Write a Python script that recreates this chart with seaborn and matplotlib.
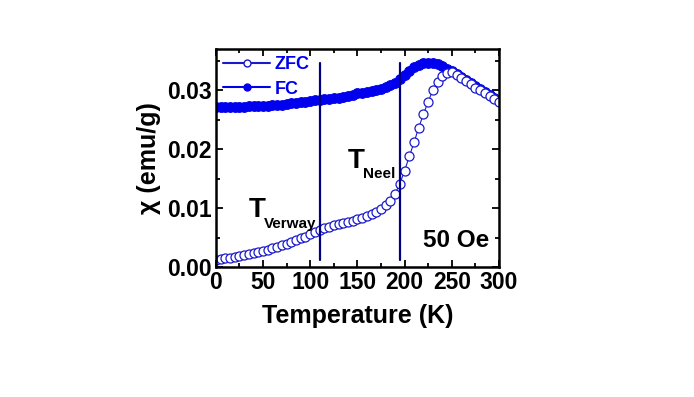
import numpy as np
import pandas as pd
import matplotlib
matplotlib.use("Agg")
import matplotlib.pyplot as plt
import seaborn as sns
from matplotlib.lines import Line2D
from matplotlib.ticker import MultipleLocator

# donnees (pas de 5 K)
temp = list(range(0, 301, 5))
zfc = [0.0013, 0.0014, 0.0015, 0.0016, 0.0018, 0.0019, 0.0021, 0.0022, 0.0024, 0.0026,
       0.0028, 0.0030, 0.0032, 0.0035, 0.0037, 0.0040, 0.0043, 0.0046, 0.0049, 0.0052,
       0.0056, 0.0060, 0.0063, 0.0066, 0.0068, 0.0071, 0.0073, 0.0075, 0.0077, 0.0079,
       0.0081, 0.0084, 0.0087, 0.0090, 0.0094, 0.0099, 0.0105, 0.0113, 0.0125, 0.0142,
       0.0164, 0.0188, 0.0212, 0.0237, 0.0260, 0.0281, 0.0301, 0.0315, 0.0325, 0.0330,
       0.0331, 0.0326, 0.0321, 0.0316, 0.0311, 0.0305, 0.0300, 0.0295, 0.0290, 0.0285,
       0.0281]
fc = [0.0272, 0.0272, 0.0272, 0.0272, 0.0272, 0.0272, 0.0272, 0.0273, 0.0273, 0.0273,
      0.0274, 0.0274, 0.0275, 0.0276, 0.0276, 0.0277, 0.0278, 0.0279, 0.0280, 0.0281,
      0.0282, 0.0283, 0.0284, 0.0285, 0.0286, 0.0287, 0.0288, 0.0289, 0.0291, 0.0293,
      0.0295, 0.0296, 0.0297, 0.0299, 0.0301, 0.0303, 0.0306, 0.0309, 0.0313, 0.0319,
      0.0326, 0.0333, 0.0339, 0.0343, 0.0346, 0.0347, 0.0347, 0.0345, 0.0341, 0.0337,
      0.0333, 0.0328, 0.0323, 0.0318, 0.0313, 0.0307, 0.0302, 0.0297, 0.0292, 0.0287,
      0.0283]
t_verway = 110
t_neel = 195

df = pd.DataFrame({"T": temp, "ZFC": zfc, "FC": fc})

sns.set_style("ticks")
plt.rcParams['font.family'] = ['Liberation Sans', 'DejaVu Sans']
plt.rcParams['font.weight'] = 'bold'
plt.rcParams['text.color'] = 'black'
plt.rcParams['axes.labelcolor'] = 'black'
plt.rcParams['xtick.color'] = 'black'
plt.rcParams['ytick.color'] = 'black'
plt.rcParams['axes.edgecolor'] = 'black'

fig = plt.figure(figsize=(6.94, 3.97), dpi=100)
ax = fig.add_axes([0.311, 0.327, 0.408, 0.549])

blue = '#0000ee'
zblue = '#1a1acc'
sns.lineplot(data=df, x="T", y="FC", ax=ax, color=blue, marker='o', markersize=7,
             markerfacecolor=blue, markeredgecolor=blue, lw=4)
sns.lineplot(data=df, x="T", y="ZFC", ax=ax, color=zblue, marker='o', markersize=6.5,
             markerfacecolor='white', markeredgecolor=zblue, markeredgewidth=0.9, lw=0.8)

for tv in (t_verway, t_neel):
    ax.plot([tv, tv], [0.0013, 0.0346], color='#000080', lw=1.6)

ax.set_xlim(0, 300)
ax.set_ylim(0, 0.037)
ax.xaxis.set_major_locator(MultipleLocator(50))
ax.xaxis.set_minor_locator(MultipleLocator(25))
ax.yaxis.set_major_locator(MultipleLocator(0.01))
ax.yaxis.set_minor_locator(MultipleLocator(0.005))
ax.yaxis.set_major_formatter(matplotlib.ticker.FormatStrFormatter('%.2f'))
ax.tick_params(which='both', direction='in', top=True, right=True, width=1.3)
ax.tick_params(which='major', length=5, labelsize=16.5, pad=3)
ax.tick_params(which='minor', length=3)
for s in ax.spines.values():
    s.set_linewidth(1.8)
    s.set_visible(True)

ax.set_xlabel("Temperature (K)", fontsize=18, fontweight='bold', labelpad=7)
ax.set_ylabel("χ (emu/g)", fontsize=18, fontweight='bold', labelpad=4)

ax.text(35, 0.0085, "T", fontsize=20, fontweight='bold')
ax.text(51, 0.0067, "Verway", fontsize=11, fontweight='bold')
ax.text(140, 0.0169, "T", fontsize=20, fontweight='bold')
ax.text(156, 0.0151, "Neel", fontsize=11, fontweight='bold')
ax.text(290, 0.0034, "50 Oe", fontsize=17.5, fontweight='bold', ha='right')

handles = [
    Line2D([], [], color=zblue, marker='o', markersize=5, markerfacecolor='white', lw=1.5),
    Line2D([], [], color=blue, marker='o', markersize=5, markerfacecolor=blue, lw=1.5),
]
leg = ax.legend(handles, ["ZFC", "FC"], loc='upper left', frameon=False, fontsize=13,
                handlelength=2.6, handletextpad=0.25, labelspacing=0.4,
                borderaxespad=0.2, borderpad=0.2)
for txt in leg.get_texts():
    txt.set_color(blue)
    txt.set_fontweight('bold')

fig.savefig("out.png", dpi=100)
